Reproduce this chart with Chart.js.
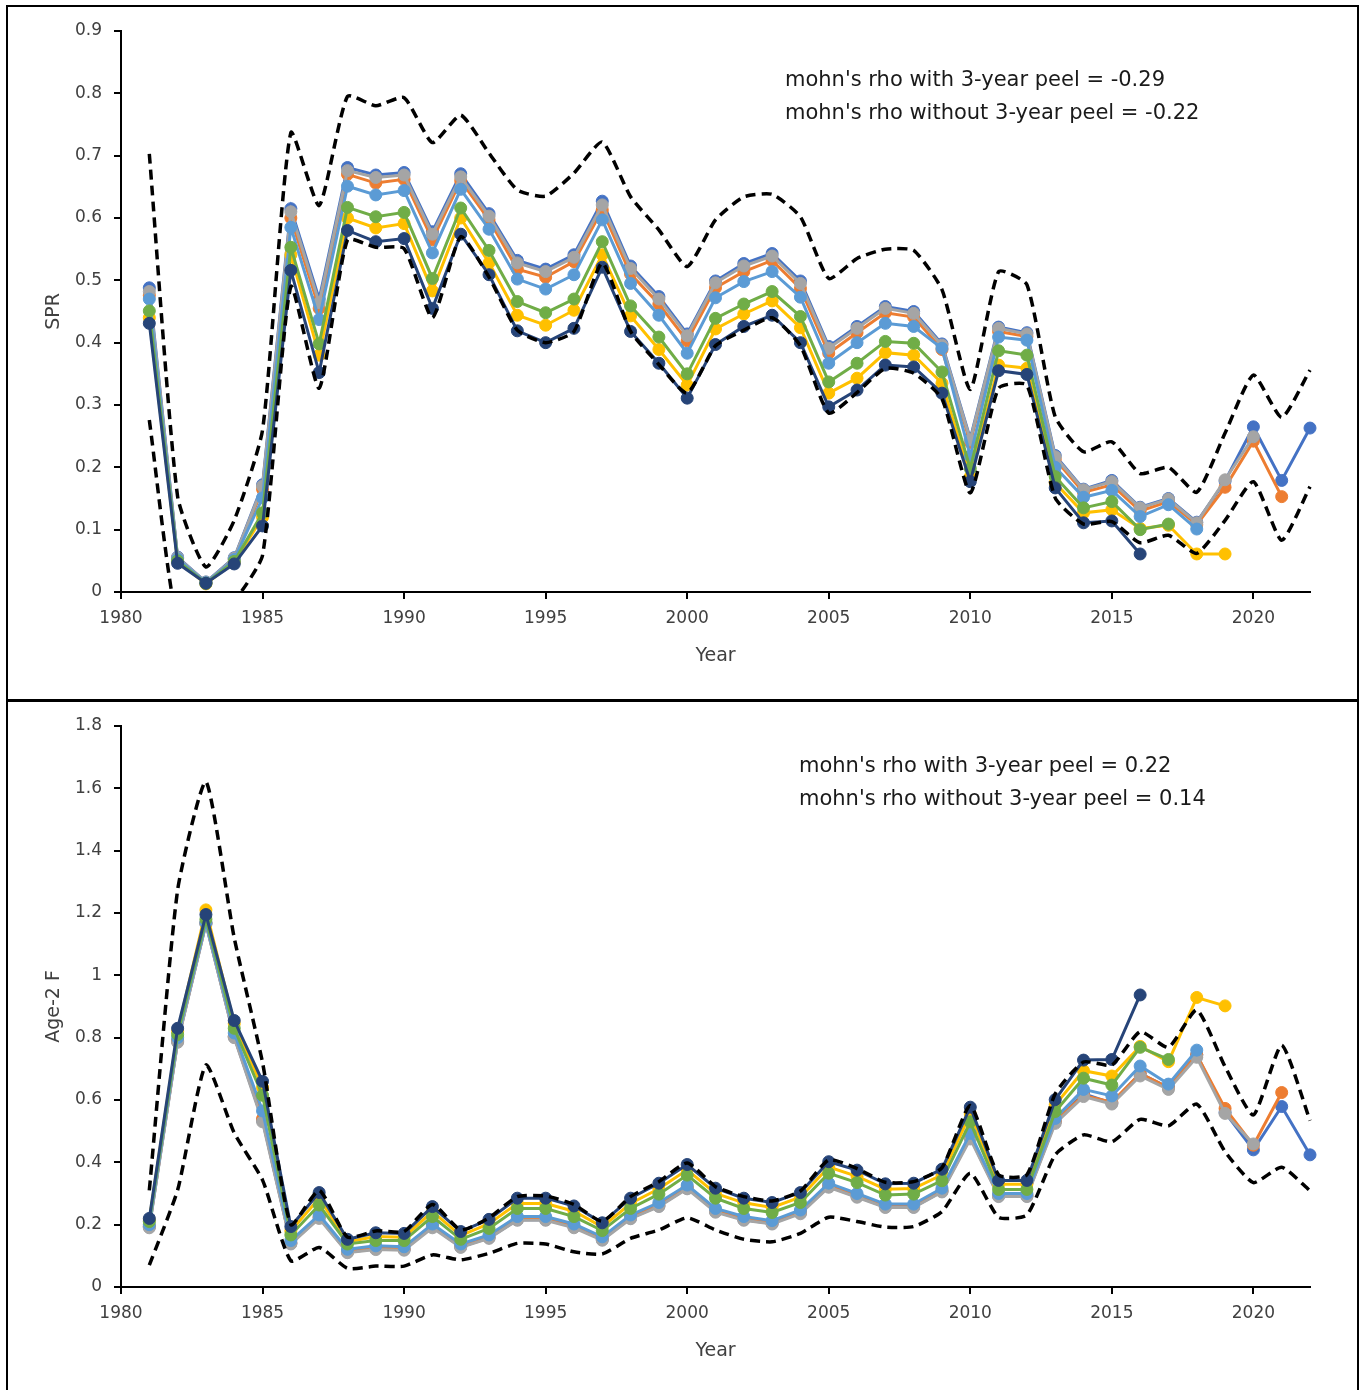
<!DOCTYPE html>
<html>
<head>
<meta charset="utf-8">
<title>Retrospective analysis: SPR and Age-2 F</title>
<script src="https://cdn.jsdelivr.net/npm/chart.js@4.4.1/dist/chart.umd.min.js"></script>
<style>
    html, body { margin: 0; padding: 0; background: #fff; }
    body { width: 1364px; height: 1390px; position: relative; overflow: hidden; }
    canvas { position: absolute; left: 0; }
    #sprChart { top: 0; }
    #fChart { top: 700px; }
    .frame { position: absolute; border: 2px solid #000; box-sizing: border-box; pointer-events: none; }
</style>
</head>
<body>
<canvas id="sprChart" width="1364" height="700"></canvas>
<canvas id="fChart" width="1364" height="690"></canvas>
<div class="frame" style="left:6px;top:5px;width:1353px;height:697px"></div>
<div class="frame" style="left:6px;top:699px;width:1353px;height:700px"></div>

<script>
// ============================================================================
// DATA
// ============================================================================
const years = [1981, 1982, 1983, 1984, 1985, 1986, 1987, 1988, 1989, 1990,
               1991, 1992, 1993, 1994, 1995, 1996, 1997, 1998, 1999, 2000,
               2001, 2002, 2003, 2004, 2005, 2006, 2007, 2008, 2009, 2010,
               2011, 2012, 2013, 2014, 2015, 2016, 2017, 2018, 2019, 2020,
               2021, 2022];

const xTicks = [1980, 1985, 1990, 1995, 2000, 2005, 2010, 2015, 2020];

// Peel labels (terminal year of each run)
const peelLabels = ['2022', '2021', '2020', '2019', '2018', '2017', '2016'];

// --- SPR (top panel), each peel starts in 1981 ---
const spr2022 = [0.488, 0.056, 0.016, 0.055, 0.172, 0.615, 0.470, 0.681, 0.669, 0.673,
                 0.578, 0.671, 0.607, 0.532, 0.518, 0.541, 0.627, 0.523, 0.474, 0.414,
                 0.499, 0.527, 0.543, 0.499, 0.394, 0.426, 0.458, 0.450, 0.398, 0.246,
                 0.425, 0.416, 0.219, 0.165, 0.179, 0.136, 0.150, 0.112, 0.178, 0.265,
                 0.179, 0.263];
const spr2021 = [0.476, 0.054, 0.015, 0.053, 0.165, 0.600, 0.455, 0.670, 0.656, 0.662,
                 0.565, 0.660, 0.597, 0.518, 0.505, 0.530, 0.613, 0.510, 0.462, 0.403,
                 0.488, 0.514, 0.532, 0.487, 0.383, 0.416, 0.448, 0.441, 0.389, 0.240,
                 0.418, 0.410, 0.213, 0.160, 0.172, 0.130, 0.145, 0.108, 0.168, 0.242,
                 0.153];
const spr2020 = [0.482, 0.055, 0.016, 0.054, 0.170, 0.610, 0.464, 0.676, 0.665, 0.669,
                 0.574, 0.666, 0.603, 0.528, 0.514, 0.537, 0.621, 0.519, 0.470, 0.411,
                 0.496, 0.523, 0.539, 0.495, 0.391, 0.423, 0.455, 0.447, 0.396, 0.244,
                 0.423, 0.414, 0.217, 0.164, 0.177, 0.135, 0.149, 0.111, 0.180, 0.249];
const spr2019 = [0.440, 0.049, 0.013, 0.048, 0.120, 0.541, 0.380, 0.600, 0.584, 0.591,
                 0.483, 0.600, 0.528, 0.444, 0.428, 0.452, 0.541, 0.443, 0.389, 0.332,
                 0.422, 0.446, 0.467, 0.424, 0.319, 0.343, 0.384, 0.380, 0.335, 0.185,
                 0.364, 0.359, 0.175, 0.127, 0.132, 0.102, 0.107, 0.061, 0.061];
const spr2018 = [0.470, 0.053, 0.015, 0.052, 0.151, 0.585, 0.437, 0.651, 0.637, 0.644,
                 0.544, 0.646, 0.582, 0.502, 0.486, 0.509, 0.597, 0.495, 0.444, 0.383,
                 0.472, 0.498, 0.514, 0.473, 0.367, 0.400, 0.431, 0.426, 0.391, 0.218,
                 0.409, 0.404, 0.200, 0.152, 0.163, 0.121, 0.140, 0.101];
const spr2017 = [0.451, 0.050, 0.014, 0.049, 0.127, 0.553, 0.398, 0.617, 0.602, 0.609,
                 0.503, 0.616, 0.548, 0.466, 0.448, 0.470, 0.562, 0.459, 0.409, 0.350,
                 0.439, 0.462, 0.482, 0.442, 0.337, 0.367, 0.402, 0.399, 0.353, 0.198,
                 0.387, 0.380, 0.185, 0.135, 0.145, 0.100, 0.109];
const spr2016 = [0.431, 0.046, 0.014, 0.045, 0.106, 0.516, 0.352, 0.580, 0.562, 0.567,
                 0.455, 0.574, 0.509, 0.419, 0.400, 0.423, 0.521, 0.418, 0.367, 0.311,
                 0.397, 0.426, 0.444, 0.400, 0.297, 0.324, 0.364, 0.361, 0.319, 0.177,
                 0.355, 0.349, 0.167, 0.111, 0.114, 0.061];
const sprUpper = [0.703, 0.153, 0.040, 0.115, 0.260, 0.737, 0.620, 0.795, 0.780, 0.793,
                  0.721, 0.765, 0.704, 0.645, 0.635, 0.672, 0.722, 0.634, 0.581, 0.522,
                  0.597, 0.634, 0.638, 0.602, 0.503, 0.535, 0.550, 0.548, 0.485, 0.325,
                  0.514, 0.493, 0.281, 0.225, 0.241, 0.190, 0.200, 0.160, 0.255, 0.348,
                  0.280, 0.356];
const sprLower = [0.276, -0.050, -0.060, -0.015, 0.059, 0.490, 0.327, 0.565, 0.553, 0.551,
                  0.440, 0.570, 0.505, 0.420, 0.400, 0.418, 0.528, 0.418, 0.365, 0.319,
                  0.395, 0.420, 0.440, 0.395, 0.287, 0.320, 0.359, 0.351, 0.310, 0.159,
                  0.327, 0.332, 0.151, 0.109, 0.113, 0.079, 0.091, 0.062, 0.115, 0.177,
                  0.083, 0.169];

// --- Age-2 F (bottom panel) ---
const f2022 = [0.193, 0.788, 1.166, 0.803, 0.535, 0.140, 0.223, 0.112, 0.123, 0.120,
               0.193, 0.129, 0.158, 0.216, 0.216, 0.193, 0.152, 0.221, 0.260, 0.317,
               0.243, 0.216, 0.204, 0.238, 0.322, 0.290, 0.257, 0.257, 0.307, 0.480,
               0.292, 0.292, 0.530, 0.620, 0.590, 0.685, 0.640, 0.745, 0.560, 0.440,
               0.579, 0.424];
const f2021 = [0.195, 0.790, 1.168, 0.805, 0.540, 0.142, 0.225, 0.114, 0.125, 0.122,
               0.195, 0.131, 0.160, 0.219, 0.219, 0.195, 0.155, 0.224, 0.263, 0.320,
               0.245, 0.219, 0.206, 0.240, 0.325, 0.293, 0.260, 0.260, 0.310, 0.483,
               0.295, 0.295, 0.532, 0.615, 0.593, 0.685, 0.640, 0.745, 0.573, 0.455,
               0.624];
const f2020 = [0.190, 0.785, 1.165, 0.800, 0.530, 0.138, 0.220, 0.110, 0.120, 0.118,
               0.190, 0.127, 0.156, 0.214, 0.214, 0.190, 0.150, 0.219, 0.258, 0.315,
               0.240, 0.214, 0.202, 0.235, 0.320, 0.288, 0.255, 0.255, 0.305, 0.475,
               0.290, 0.290, 0.525, 0.611, 0.587, 0.677, 0.634, 0.737, 0.557, 0.459];
const f2019 = [0.215, 0.820, 1.210, 0.845, 0.640, 0.180, 0.285, 0.145, 0.162, 0.160,
               0.242, 0.165, 0.203, 0.268, 0.268, 0.243, 0.193, 0.268, 0.315, 0.376,
               0.300, 0.270, 0.255, 0.288, 0.385, 0.355, 0.314, 0.316, 0.360, 0.555,
               0.330, 0.330, 0.585, 0.694, 0.677, 0.772, 0.723, 0.929, 0.902];
const f2018 = [0.200, 0.800, 1.170, 0.815, 0.565, 0.149, 0.231, 0.121, 0.132, 0.129,
               0.202, 0.138, 0.167, 0.226, 0.226, 0.202, 0.161, 0.231, 0.271, 0.327,
               0.252, 0.226, 0.213, 0.247, 0.333, 0.300, 0.266, 0.266, 0.317, 0.493,
               0.300, 0.300, 0.541, 0.634, 0.613, 0.709, 0.651, 0.760];
const f2017 = [0.210, 0.810, 1.180, 0.830, 0.615, 0.167, 0.263, 0.138, 0.149, 0.149,
               0.226, 0.153, 0.188, 0.252, 0.252, 0.226, 0.181, 0.252, 0.298, 0.359,
               0.285, 0.252, 0.239, 0.271, 0.365, 0.335, 0.295, 0.298, 0.341, 0.530,
               0.313, 0.313, 0.563, 0.670, 0.648, 0.769, 0.730];
const f2016 = [0.220, 0.830, 1.195, 0.855, 0.660, 0.194, 0.303, 0.153, 0.174, 0.172,
               0.258, 0.178, 0.217, 0.285, 0.285, 0.260, 0.206, 0.285, 0.333, 0.393,
               0.317, 0.285, 0.271, 0.303, 0.402, 0.375, 0.331, 0.333, 0.378, 0.577,
               0.342, 0.342, 0.601, 0.728, 0.730, 0.937];
const fUpper = [0.310, 1.274, 1.621, 1.120, 0.720, 0.200, 0.310, 0.160, 0.180, 0.178,
                0.265, 0.183, 0.222, 0.290, 0.292, 0.265, 0.211, 0.290, 0.338, 0.398,
                0.322, 0.290, 0.276, 0.308, 0.408, 0.380, 0.336, 0.338, 0.383, 0.582,
                0.360, 0.360, 0.620, 0.722, 0.712, 0.819, 0.769, 0.889, 0.707, 0.552,
                0.776, 0.534];
const fLower = [0.070, 0.311, 0.712, 0.494, 0.343, 0.084, 0.127, 0.060, 0.067, 0.067,
                0.103, 0.087, 0.108, 0.140, 0.138, 0.113, 0.106, 0.156, 0.183, 0.222,
                0.183, 0.153, 0.145, 0.172, 0.224, 0.210, 0.192, 0.194, 0.242, 0.365,
                0.224, 0.231, 0.424, 0.488, 0.466, 0.538, 0.517, 0.587, 0.434, 0.335,
                0.384, 0.309];

// Annotation texts
const sprNotes = ["mohn's rho with 3-year peel = -0.29", "mohn's rho without 3-year peel = -0.22"];
const fNotes = ["mohn's rho with 3-year peel = 0.22", "mohn's rho without 3-year peel = 0.14"];

// ============================================================================
// Styling (Excel-like palette, one colour per peel)
// ============================================================================
const peelColors = ['#4472C4', '#ED7D31', '#A5A5A5', '#FFC000', '#5B9BD5', '#70AD47', '#264478'];
// Later peels are drawn on top (lower order = drawn last)
const peelOrder = [7, 6, 5, 4, 3, 2, 1];
const FONT = "'DejaVu Sans', sans-serif";
const TEXT_COLOR = '#404040';

function toPoints(values) {
    return values.map((v, i) => ({ x: years[i], y: v }));
}

function peelDataset(values, idx) {
    return {
        label: peelLabels[idx],
        data: toPoints(values),
        borderColor: peelColors[idx],
        backgroundColor: peelColors[idx],
        pointBackgroundColor: peelColors[idx],
        pointBorderColor: peelColors[idx],
        borderWidth: 3,
        pointRadius: 6,
        pointBorderWidth: 1,
        order: peelOrder[idx],
        clip: false
    };
}

function ciDataset(values, label) {
    return {
        label: label,
        data: toPoints(values),
        borderColor: '#000',
        borderWidth: 3.5,
        borderDash: [10, 6],
        pointRadius: 0,
        tension: 0.18,
        order: 0,
        clip: { left: false, top: false, right: false, bottom: 0 }
    };
}

// Draws the mohn's rho text block inside the panel
const notesPlugin = {
    id: 'notes',
    afterDraw(chart, args, opts) {
        const ctx = chart.ctx;
        ctx.save();
        ctx.font = opts.font;
        ctx.fillStyle = '#1a1a1a';
        ctx.textBaseline = 'middle';
        opts.lines.forEach((line, i) => {
            ctx.fillText(line, opts.x, opts.y + i * opts.spacing);
        });
        ctx.restore();
    }
};

// ============================================================================
// Chart builder
// ============================================================================
function makePanel(canvasId, series, upper, lower, cfg) {
    const ctx = document.getElementById(canvasId).getContext('2d');
    const datasets = series.map((s, i) => peelDataset(s, i));
    datasets.push(ciDataset(upper, 'upper'));
    datasets.push(ciDataset(lower, 'lower'));

    return new Chart(ctx, {
        type: 'line',
        data: { datasets: datasets },
        plugins: [notesPlugin],
        options: {
            responsive: false,
            animation: false,
            layout: { padding: { top: cfg.padTop, right: 54, left: 0, bottom: 0 } },
            plugins: {
                legend: { display: false },
                tooltip: { enabled: false },
                notes: { lines: cfg.notes, x: cfg.noteX, y: cfg.noteY, spacing: 33, font: '21px ' + FONT }
            },
            scales: {
                x: {
                    type: 'linear',
                    min: 1980,
                    max: 2022,
                    afterFit: (scale) => { scale.height = cfg.xHeight; },
                    afterBuildTicks: (scale) => { scale.ticks = xTicks.map(v => ({ value: v })); },
                    ticks: {
                        color: TEXT_COLOR,
                        font: { family: FONT, size: 17 },
                        padding: 9,
                        maxRotation: 0,
                        callback: (v) => String(v)
                    },
                    grid: { drawOnChartArea: false, drawTicks: true, tickLength: 7, color: '#000', lineWidth: 2 },
                    border: { display: true, color: '#000', width: 2 },
                    title: {
                        display: true,
                        text: 'Year',
                        color: TEXT_COLOR,
                        font: { family: FONT, size: 19 },
                        padding: { top: 0, bottom: cfg.xTitlePad }
                    }
                },
                y: {
                    min: 0,
                    max: cfg.yMax,
                    afterFit: (scale) => { scale.width = 121; },
                    ticks: {
                        stepSize: cfg.yStep,
                        color: TEXT_COLOR,
                        font: { family: FONT, size: 17 },
                        padding: 12,
                        callback: (v) => parseFloat(v.toFixed(2)).toString()
                    },
                    grid: { drawOnChartArea: false, drawTicks: true, tickLength: 7, color: '#000', lineWidth: 2 },
                    border: { display: true, color: '#000', width: 2 },
                    title: {
                        display: true,
                        text: cfg.yTitle,
                        color: TEXT_COLOR,
                        font: { family: FONT, size: 19 },
                        padding: { top: 43, bottom: 0 }
                    }
                }
            }
        }
    });
}

// ============================================================================
// Render both panels
// ============================================================================
makePanel('sprChart',
    [spr2022, spr2021, spr2020, spr2019, spr2018, spr2017, spr2016], sprUpper, sprLower,
    { yMax: 0.9, yStep: 0.1, yTitle: 'SPR', padTop: 31, xHeight: 108, xTitlePad: 33,
      notes: sprNotes, noteX: 785, noteY: 81 });

makePanel('fChart',
    [f2022, f2021, f2020, f2019, f2018, f2017, f2016], fUpper, fLower,
    { yMax: 1.8, yStep: 0.2, yTitle: 'Age-2 F', padTop: 26, xHeight: 103, xTitlePad: 28,
      notes: fNotes, noteX: 799, noteY: 67 });
</script>
</body>
</html>
